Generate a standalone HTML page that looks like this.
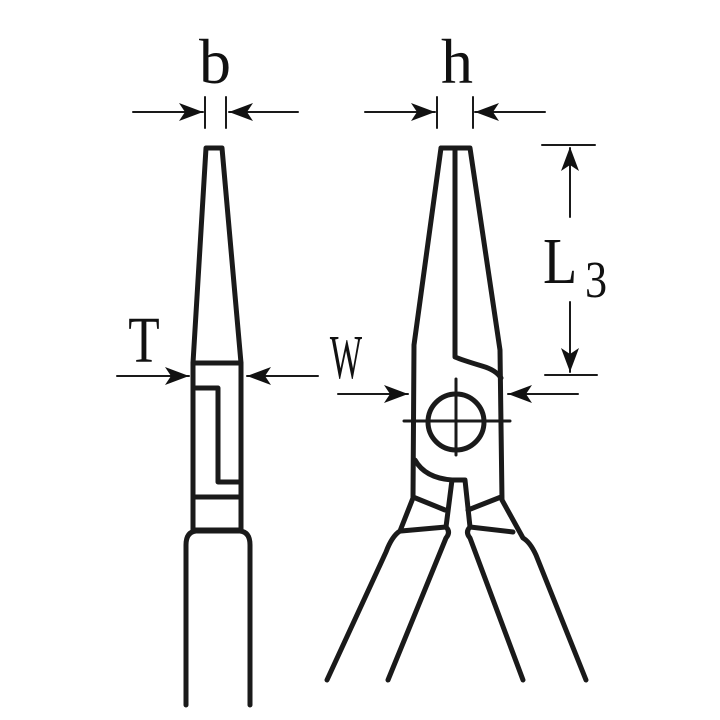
<!DOCTYPE html>
<html><head><meta charset="utf-8"><style>html,body{margin:0;padding:0;background:#fff}svg{display:block}</style></head>
<body>
<svg width="720" height="720" viewBox="0 0 720 720" xmlns="http://www.w3.org/2000/svg">
<defs>
<marker id="ah" viewBox="0 0 10 10" refX="10" refY="5" markerWidth="10" markerHeight="10" markerUnits="userSpaceOnUse" orient="auto">
<path d="M0,0 L10,5 L0,10 L3,5 Z" fill="#111"/>
</marker>
</defs>
<g fill="none" stroke="#1a1a1a" stroke-linejoin="round" stroke-linecap="round">
<!-- dimension lines -->
<g stroke-width="2">
<line x1="133" y1="112" x2="203" y2="112"/><line x1="298" y1="112" x2="229" y2="112"/>
<line x1="365" y1="112" x2="435" y2="112"/><line x1="545" y1="112" x2="475" y2="112"/>
<line x1="117" y1="376" x2="189" y2="376"/><line x1="318" y1="376" x2="247" y2="376"/>
<line x1="338" y1="394" x2="408" y2="394"/><line x1="578" y1="394" x2="508" y2="394"/>
<line x1="570" y1="217" x2="570" y2="148"/><line x1="570" y1="302" x2="570" y2="372"/>
<line x1="542" y1="145" x2="595" y2="145"/><line x1="545" y1="375" x2="597" y2="375"/>
<line x1="205" y1="97" x2="205" y2="128"/><line x1="226" y1="97" x2="226" y2="128"/>
<line x1="437" y1="97" x2="437" y2="128"/><line x1="473" y1="97" x2="473" y2="128"/>
</g>
<g stroke-width="0" fill="#111">
<path d="M203,112 l-24,-9 l6,9 l-6,9 z"/><path d="M229,112 l24,-9 l-6,9 l6,9 z"/>
<path d="M435,112 l-24,-9 l6,9 l-6,9 z"/><path d="M475,112 l24,-9 l-6,9 l6,9 z"/>
<path d="M189,376 l-24,-9 l6,9 l-6,9 z"/><path d="M247,376 l24,-9 l-6,9 l6,9 z"/>
<path d="M408,394 l-24,-9 l6,9 l-6,9 z"/><path d="M508,394 l24,-9 l-6,9 l6,9 z"/>
<path d="M570,147 l-9,24 l9,-6 l9,6 z"/><path d="M570,372 l-9,-24 l9,6 l9,-6 z"/>
</g>
<!-- left pliers -->
<g stroke-width="5">
<path d="M206,148 L222,148 L241,363 L241,530 L193,530 L193,363 Z"/>
<line x1="193" y1="363" x2="241" y2="363"/>
<path d="M196,388 L218,388 L218,482 L240,482"/>
<line x1="193" y1="497" x2="241" y2="497"/>
<path d="M186,705 L186,545 Q186,532 196,531 L240,531 Q250,532 250,545 L250,705"/>
</g>
<!-- right pliers -->
<g stroke-width="5">
<path d="M441,148 L470,148 L500,350 L502,500 L523,538 Q530,542 536,555 L586,680"/>
<path d="M441,148 L414,345 L413,498 L400,531 Q392,536 386,552 L327,680"/>
<path d="M455,150 L455,357 Q462,360 482,366 Q496,370 501,378"/>
<path d="M415,460 Q425,478 452,480 L465,480 L470,527 Q465,532 470,538 L523,680"/>
<path d="M452,480 L446,527 Q451,532 446,538 L388,680"/>
<path d="M413,497 L445,510"/><path d="M401,531 L446,527"/>
<path d="M501,497 L468,510"/><path d="M513,532 L470,527"/>
<circle cx="456" cy="422" r="28"/>
</g>
<g stroke-width="3">
<line x1="404" y1="421" x2="510" y2="421"/>
<line x1="456" y1="379" x2="456" y2="455"/>
</g>
</g>
<g font-family="'Liberation Serif', serif" fill="#111">
<text x="215" y="83" font-size="64" text-anchor="middle">b</text>
<text x="457" y="83" font-size="64" text-anchor="middle">h</text>
<text x="0" y="0" font-size="66" text-anchor="middle" transform="translate(144,362) scale(0.78,1)">T</text>
<text x="0" y="0" font-size="62" text-anchor="middle" transform="translate(346,378) scale(0.55,1)">W</text>
<text x="0" y="0" font-size="66" transform="translate(543,283) scale(0.85,1)">L</text>
<text x="0" y="0" font-size="52" transform="translate(585,297) scale(0.85,1)">3</text>
</g>
</svg>
</body></html>
